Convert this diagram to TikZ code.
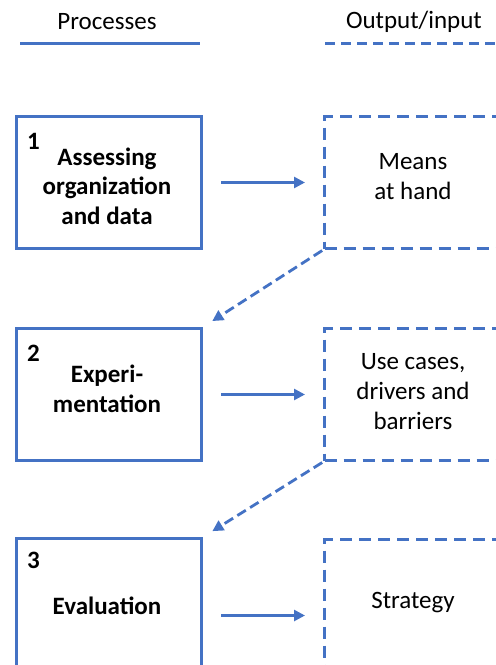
\documentclass[tikz,border=0pt]{standalone}
\usepackage{fontspec}
\setmainfont{Carlito}
\usetikzlibrary{arrows.meta}
\definecolor{obl}{HTML}{4472C4}
\tikzset{
  procbox/.style={draw=obl, line width=3pt, minimum width=185pt, minimum height=132pt, inner sep=0pt, anchor=north west},
  iobox/.style={draw=obl, line width=3pt, dash pattern=on 12pt off 7pt, minimum width=185pt, minimum height=132pt, inner sep=0pt, anchor=north west},
  txt/.style={font=\fontsize{25}{30}\selectfont, align=center, inner sep=0pt},
  btxt/.style={font=\fontsize{25}{29.5}\selectfont\bfseries, align=center, inner sep=0pt},
  harrow/.style={draw=obl, line width=2.6pt, -{Triangle[length=11pt,width=11pt]}, shorten <=18pt, shorten >=18pt},
  darrow/.style={draw=obl, line width=2.8pt, dash pattern=on 10pt off 5pt, -{Triangle[length=11pt,width=11pt]}, shorten <=1pt, shorten >=11pt},
  legline/.style={draw=obl, line width=3pt}
}
\begin{document}
\begin{tikzpicture}[x=1pt,y=-1pt]
\useasboundingbox (0,0) rectangle (496,665);
\clip (0,0) rectangle (496,665);
% legend
\node[txt] (hp) at (107,22) {Processes};
\node[txt] (ho) at (414,22) {Output/input};
\coordinate (lp1) at (20,43); \coordinate (lp2) at (200,43);
\coordinate (lo1) at (325,43); \coordinate (lo2) at (500,43);
\draw[legline] (lp1) -- (lp2);
\draw[legline, dash pattern=on 10pt off 6pt] (lo1) -- (lo2);
% boxes
\node[procbox] (b1) at (15,115) {};
\node[procbox] (b2) at (15,327) {};
\node[procbox, minimum height=154pt] (b3) at (15,537) {};
\node[iobox] (r1) at (323,115) {};
\node[iobox] (r2) at (323,327) {};
\node[iobox] (r3) at (323,538) {};
% numbers
\node[btxt, anchor=base west] (n1) at (27,149) {1};
\node[btxt, anchor=base west] (n2) at (27,361) {2};
\node[btxt, anchor=base west] (n3) at (27,568) {3};
% texts
\node[btxt] (t1) at (107,186) {Assessing\\organization\\and data};
\node[btxt] (t2) at (107,389) {Experi-\\mentation};
\node[btxt] (t3) at (107,606) {Evaluation};
\node[txt] (u1) at (413,177) {Means\\at hand};
\node[txt] (u2) at (413,392) {Use cases,\\drivers and\\barriers};
\node[txt] (u3) at (413,603) {Strategy};
% arrows
\draw[harrow] (b1.east) -- (r1.west |- b1.east);
\draw[harrow] (b2.east) -- (r2.west |- b2.east);
\draw[harrow] (b3.east) -- (r3.west |- b3.east);
\draw[darrow] (r1.south west) -- (b2.north east);
\draw[darrow] (r2.south west) -- (b3.north east);
\end{tikzpicture}
\end{document}
